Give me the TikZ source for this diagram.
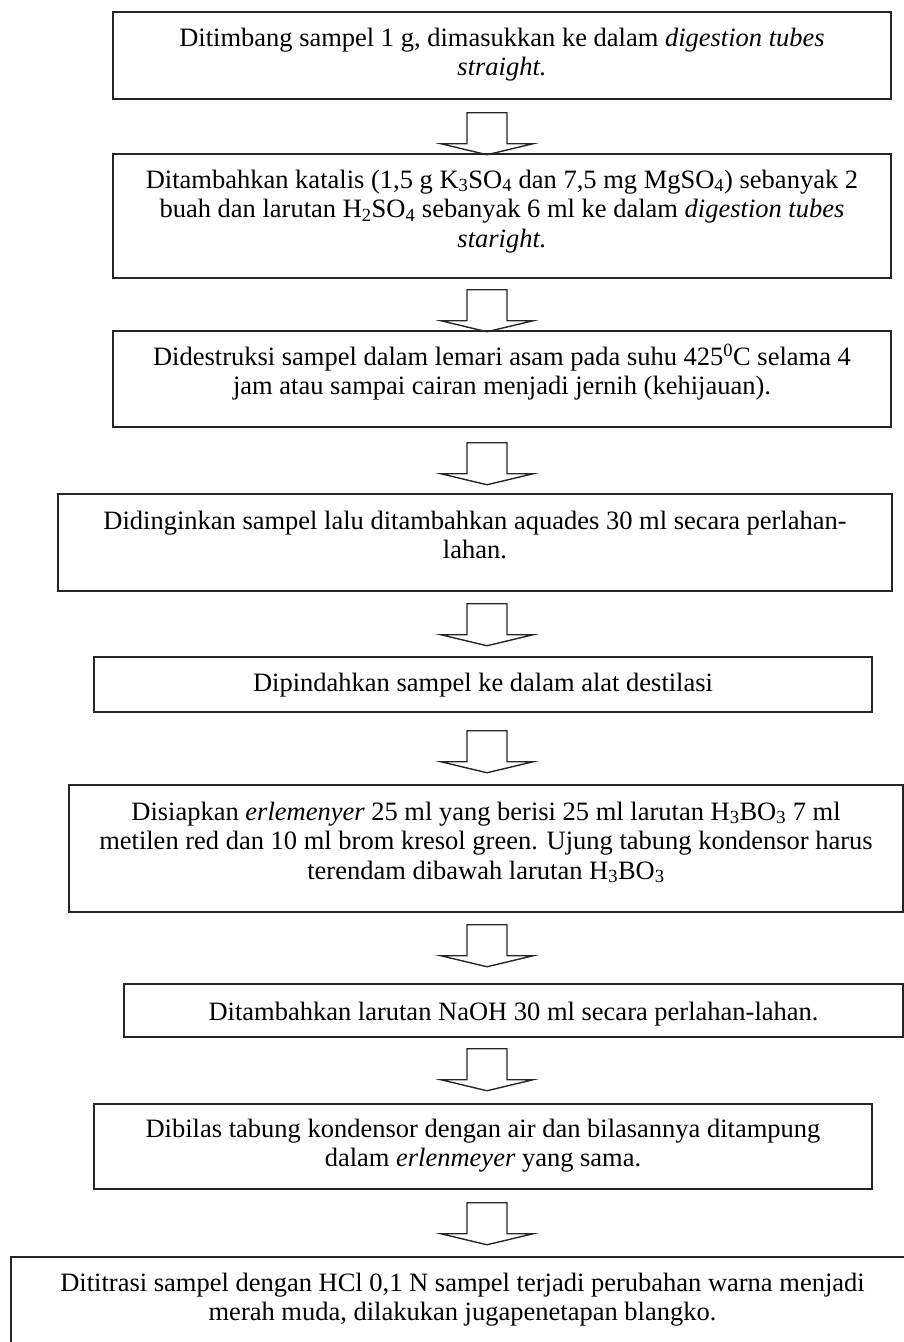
\documentclass[tikz,border=0pt]{standalone}
\usepackage{fontspec}
\setmainfont{Liberation Serif}
\usetikzlibrary{calc}
\begin{document}
\begin{tikzpicture}[x=1pt,y=-1pt,
  box/.style={draw=black!85, line width=1.5pt, rectangle, inner sep=0pt},
  txt/.style={font=\fontsize{26.5}{29.5}\selectfont, align=center, inner sep=0pt, anchor=base},
  fatarrow/.pic={\draw[black!85, line width=1.4pt]
    (-20,0) -- (20,0) -- (20,31) -- (46,31) -- (0,42) -- (-46,31) -- (-20,31) -- cycle;}]
\useasboundingbox (0,0) rectangle (904,1342);
\clip (0,0) rectangle (904,1342);

% process boxes
\node[box, minimum width=778, minimum height=87]  (b1) at (502,55.5)   {};
\node[box, minimum width=778, minimum height=124] (b2) at (502,216)    {};
\node[box, minimum width=778, minimum height=96]  (b3) at (502,379)    {};
\node[box, minimum width=834, minimum height=97]  (b4) at (475,542.5)  {};
\node[box, minimum width=778, minimum height=55]  (b5) at (483,684.5)  {};
\node[box, minimum width=834, minimum height=127] (b6) at (486,848.5)  {};
\node[box, minimum width=779, minimum height=53]  (b7) at (513.5,1010.5) {};
\node[box, minimum width=778, minimum height=85]  (b8) at (483,1146.5) {};
\node[box, minimum width=903, minimum height=103] (b9) at (462.5,1308.5) {};

% box texts; the base anchor sits on the last line, so the offset is
% the first baseline (about 35 below the top edge) plus one line per extra line
\node[txt] (t1) at ($(b1.north)+(0,64.5)$) {Ditimbang sampel 1 g, dimasukkan ke dalam \textit{digestion tubes}\\ \textit{straight.}};
\node[txt] (t2) at ($(b2.north)+(0,94)$) {Ditambahkan katalis (1,5 g K\textsubscript{3}SO\textsubscript{4} dan 7,5 mg MgSO\textsubscript{4}) sebanyak 2\\ buah dan larutan H\textsubscript{2}SO\textsubscript{4} sebanyak 6 ml ke dalam \textit{digestion tubes}\\ \textit{staright.}};
\node[txt] (t3) at ($(b3.north)+(0,64.5)$) {Didestruksi sampel dalam lemari asam pada suhu 425\textsuperscript{0}C selama 4\\ jam atau sampai cairan menjadi jernih (kehijauan).};
\node[txt] (t4) at ($(b4.north)+(0,65.5)$) {Didinginkan sampel lalu ditambahkan aquades 30 ml secara perlahan-\\ lahan.};
\node[txt] (t5) at ($(b5.north)+(0,35)$) {Dipindahkan sampel ke dalam alat destilasi};
\node[txt] (t6) at ($(b6.north)+(0,95)$) {Disiapkan \textit{erlemenyer} 25 ml yang berisi 25 ml larutan H\textsubscript{3}BO\textsubscript{3} 7 ml\\ metilen red dan 10 ml brom kresol green. Ujung tabung kondensor harus\\ terendam dibawah larutan H\textsubscript{3}BO\textsubscript{3}};
\node[txt] (t7) at ($(b7.north)+(0,37)$) {Ditambahkan larutan NaOH 30 ml secara perlahan-lahan.};
\node[txt] (t8) at ($(b8.north)+(0,63.5)$) {Dibilas tabung kondensor dengan air dan bilasannya ditampung\\ dalam \textit{erlenmeyer} yang sama.};
\node[txt] (t9) at ($(b9.north)+(0,64.5)$) {Dititrasi sampel dengan HCl 0,1 N sampel terjadi perubahan warna menjadi\\ merah muda, dilakukan jugapenetapan blangko.};

% block arrows between consecutive steps
\coordinate (axis) at (487,0);
\coordinate (a1) at ($(b1.south -| axis)+(0,13)$);
\coordinate (a2) at ($(b2.south -| axis)+(0,11)$);
\coordinate (a3) at ($(b3.south -| axis)+(0,15)$);
\coordinate (a4) at ($(b4.south -| axis)+(0,12)$);
\coordinate (a5) at ($(b5.south -| axis)+(0,18)$);
\coordinate (a6) at ($(b6.south -| axis)+(0,12)$);
\coordinate (a7) at ($(b7.south -| axis)+(0,11)$);
\coordinate (a8) at ($(b8.south -| axis)+(0,13)$);
\foreach \a in {a1,a2,a3,a4,a5,a6,a7,a8}
  \pic at (\a) {fatarrow};
\end{tikzpicture}
\end{document}
